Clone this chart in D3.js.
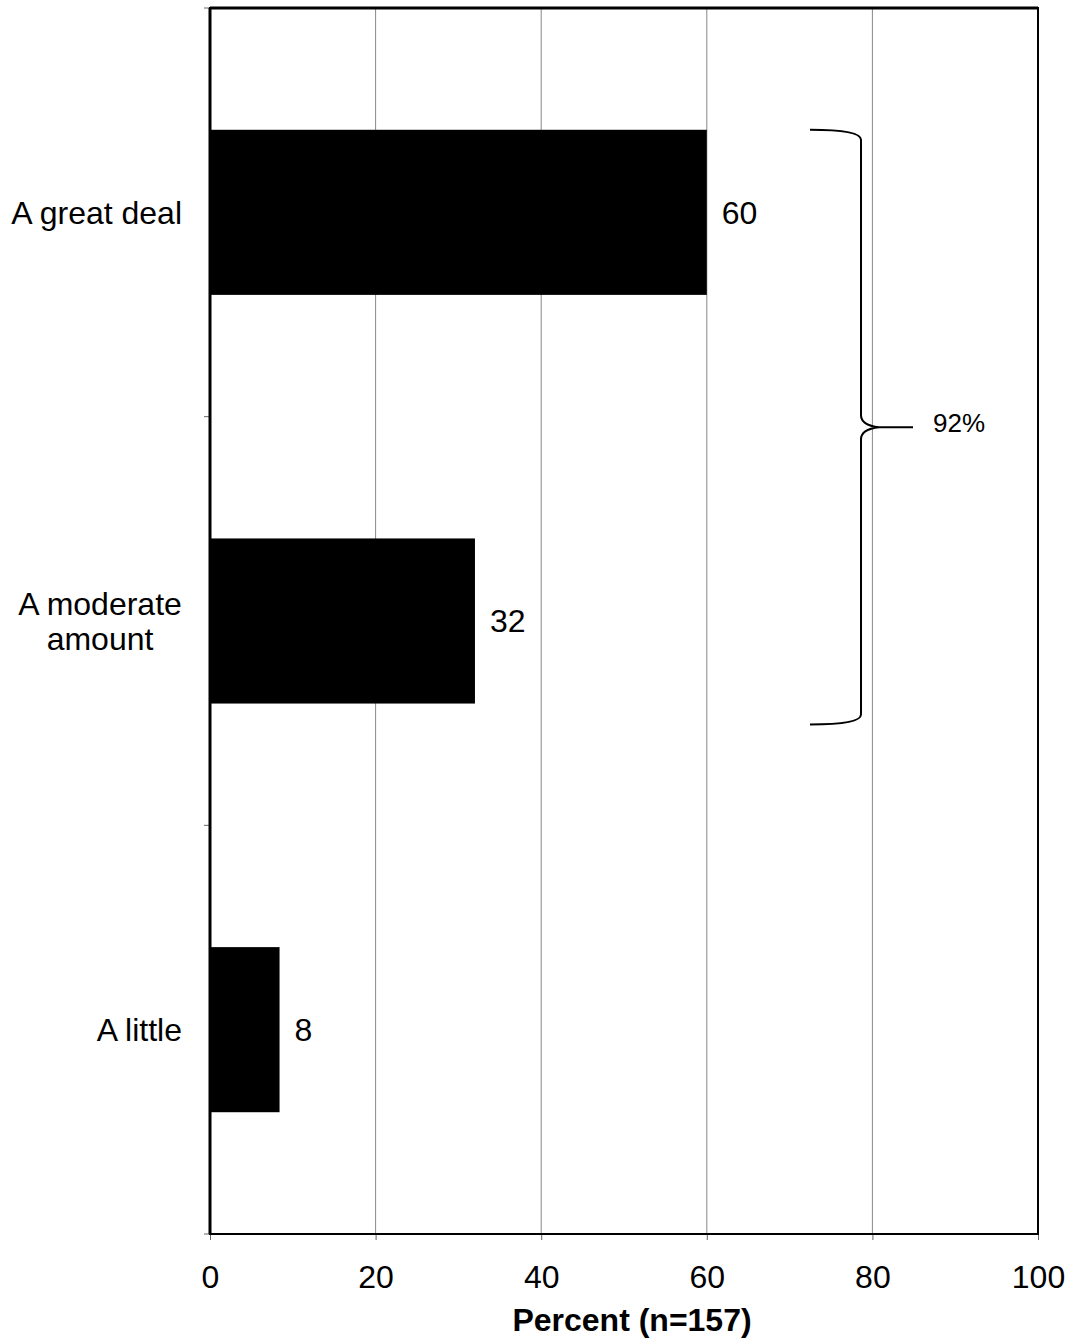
<!DOCTYPE html>
<html><head><meta charset="utf-8">
<script src="https://cdn.jsdelivr.net/npm/d3@7"></script>
<style>body{margin:0;background:#fff}svg{display:block;font-family:"Liberation Sans",Arial,sans-serif}</style>
</head><body>
<script>
const categories = [["A great deal"], ["A moderate", "amount"], ["A little"]];
const values = [60, 32, 8.4];
const valueLabels = ["60", "32", "8"];
const xTicks = [0, 20, 40, 60, 80, 100];
const xTitle = "Percent (n=157)";
const braceLabel = "92%";

const W = 1069, H = 1342;
const m = {left: 210, right: 31, top: 8, bottom: 108};
const pw = W - m.left - m.right, ph = H - m.top - m.bottom;
const FS = 32;
const svg = d3.select("body").append("svg").attr("width", W).attr("height", H);
const x = d3.scaleLinear().domain([0, 100]).range([m.left, m.left + pw]);
const y = d3.scaleBand().domain(d3.range(categories.length)).range([m.top, m.top + ph]).paddingInner(0.596).paddingOuter(0.298);

// gridlines
svg.append("g").selectAll("line").data(xTicks.slice(1, -1)).join("line")
  .attr("x1", d => x(d)).attr("x2", d => x(d)).attr("y1", m.top).attr("y2", m.top + ph)
  .attr("stroke", "#888").attr("stroke-width", 1);

// bars
svg.append("g").selectAll("rect").data(values).join("rect")
  .attr("x", x(0)).attr("y", (d, i) => y(i)).attr("width", d => x(d) - x(0)).attr("height", y.bandwidth())
  .attr("fill", "#000");

// value labels
svg.append("g").selectAll("text").data(values).join("text")
  .attr("x", d => x(d) + 15).attr("y", (d, i) => y(i) + y.bandwidth() / 2)
  .attr("dy", "0.35em").attr("font-size", FS).text((d, i) => valueLabels[i]);

// category labels
const cl = svg.append("g").selectAll("text").data(categories).join("text")
  .attr("text-anchor", "middle").attr("font-size", FS);
cl.each(function(lines, i) {
  const t = d3.select(this);
  const cy = y(i) + y.bandwidth() / 2;
  const n = lines.length;
  if (n === 1) t.attr("text-anchor", "end");
  lines.forEach((s, j) => {
    t.append("tspan").attr("x", n > 1 ? 100 : 182).attr("y", cy + (j - (n - 1) / 2) * 35).attr("dy", "0.35em").text(s);
  });
});

// left axis ticks (band boundaries)
const bstep = ph / categories.length;
svg.append("g").selectAll("line").data(d3.range(categories.length + 1)).join("line")
  .attr("x1", m.left - 6).attr("x2", m.left).attr("y1", d => m.top + d * bstep).attr("y2", d => m.top + d * bstep)
  .attr("stroke", "#666").attr("stroke-width", 1);

// bottom axis
const xa = svg.append("g").attr("transform", `translate(0,${m.top + ph})`)
  .call(d3.axisBottom(x).tickValues(xTicks).tickSize(6).tickPadding(25).tickSizeOuter(0));
xa.select(".domain").remove();
xa.selectAll("line").attr("stroke", "#666");
xa.selectAll("text").attr("font-size", FS).attr("font-family", "Liberation Sans, Arial, sans-serif").attr("fill", "#000");

// frame
svg.append("rect").attr("x", m.left).attr("y", m.top).attr("width", pw).attr("height", ph)
  .attr("fill", "none").attr("stroke", "#000").attr("stroke-width", 2);
svg.append("line").attr("x1", m.left).attr("x2", m.left).attr("y1", m.top).attr("y2", m.top + ph)
  .attr("stroke", "#000").attr("stroke-width", 3);
svg.append("line").attr("x1", m.left).attr("x2", m.left + pw).attr("y1", m.top).attr("y2", m.top)
  .attr("stroke", "#000").attr("stroke-width", 3);

// axis title
svg.append("text").attr("x", 632).attr("y", 1331).attr("text-anchor", "middle")
  .attr("font-size", FS).attr("font-weight", "bold").text(xTitle);

// brace spanning first two bars
const bTop = y(0), bBot = y(1) + y.bandwidth() + 21;
const bx0 = 810, bxv = 861, tipX = 913;
const mid = (bTop + bBot) / 2;
const p = d3.path();
p.moveTo(bx0, bTop);
p.quadraticCurveTo(bxv, bTop, bxv, bTop + 10);
p.lineTo(bxv, mid - 12);
p.quadraticCurveTo(bxv, mid - 2, bxv + 18, mid);
p.lineTo(tipX, mid);
p.moveTo(bxv + 18, mid);
p.quadraticCurveTo(bxv, mid + 2, bxv, mid + 12);
p.lineTo(bxv, bBot - 10);
p.quadraticCurveTo(bxv, bBot, bx0, bBot);
svg.append("path").attr("d", p.toString()).attr("fill", "none").attr("stroke", "#000").attr("stroke-width", 2);
svg.append("text").attr("x", 933).attr("y", mid - 4).attr("dy", "0.35em").attr("font-size", 26).text(braceLabel);
</script>
</body></html>
